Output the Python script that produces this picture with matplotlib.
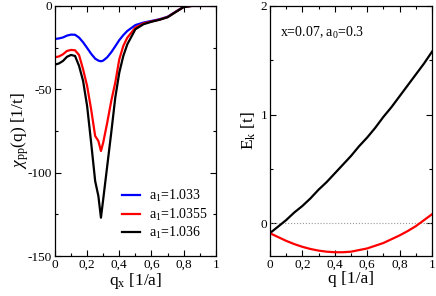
import matplotlib
matplotlib.use("Agg")
import matplotlib.pyplot as plt
from matplotlib.ticker import MultipleLocator, FuncFormatter

plt.rcParams['font.family'] = ['Liberation Serif', 'DejaVu Serif']
plt.rcParams['mathtext.fontset'] = 'custom'
plt.rcParams['mathtext.rm'] = 'Liberation Serif'
plt.rcParams['mathtext.it'] = 'Liberation Serif:italic'
plt.rcParams['axes.unicode_minus'] = False

# ---- left panel data: chi_pp(q) ----
qx = [0, 0.025, 0.05, 0.075, 0.1, 0.125, 0.15, 0.175, 0.2, 0.225, 0.25, 0.27,
      0.286, 0.3, 0.325, 0.35, 0.375, 0.4, 0.425, 0.45, 0.5, 0.55, 0.6, 0.65,
      0.7, 0.75, 0.8, 0.85, 0.9, 0.95, 1.0]
chi_1033 = [-19.8, -19.5, -18.9, -17.8, -17.2, -17.3, -19.0, -21.8, -25.2, -28.7,
            -31.6, -32.8, -33.2, -32.8, -30.8, -27.8, -24.2, -20.5, -17.5, -15.0,
            -11.5, -10.0, -9.0, -8.0, -6.5, -3.5, -0.5, 0, 0, 0, 0]
chi_10355 = [-30.8, -30.3, -29.0, -27.0, -26.4, -26.6, -29.5, -38.0, -48.0, -62.0,
             -78.0, -81.0, -87.0, -82.0, -70.0, -57.0, -46.0, -32.0, -24.0, -19.0,
             -13.0, -10.5, -9.3, -8.2, -6.7, -3.6, -0.6, 0, 0, 0, 0]
chi_1036 = [-35.2, -34.5, -33.0, -30.5, -29.4, -30.0, -36.0, -45.0, -60.0, -82.0,
            -105.0, -114.0, -127.0, -116.0, -96.0, -76.0, -55.0, -40.0, -30.0, -23.0,
            -14.0, -11.0, -9.5, -8.3, -6.8, -3.7, -0.7, 0, 0, 0, 0]
labels_left = ['a$_1$=1.033', 'a$_1$=1.0355', 'a$_1$=1.036']

# ---- right panel data: E_k(q) ----
q = [0, 0.05, 0.1, 0.15, 0.2, 0.25, 0.3, 0.35, 0.4, 0.45, 0.5, 0.55, 0.6, 0.65,
     0.7, 0.75, 0.8, 0.85, 0.9, 0.95, 1.0]
E_black = [-0.09, -0.03, 0.03, 0.10, 0.16, 0.23, 0.31, 0.38, 0.46, 0.54, 0.62,
           0.71, 0.79, 0.88, 0.98, 1.07, 1.17, 1.27, 1.37, 1.47, 1.58]
E_red = [-0.09, -0.125, -0.16, -0.19, -0.215, -0.235, -0.25, -0.26, -0.265, -0.265,
         -0.26, -0.245, -0.23, -0.205, -0.18, -0.145, -0.11, -0.07, -0.025, 0.03, 0.085]

fig = plt.figure(figsize=(4.36, 2.96), dpi=100)
ax1 = fig.add_axes([0.126, 0.135, 0.369, 0.845])
ax2 = fig.add_axes([0.619, 0.135, 0.372, 0.845])

comma = FuncFormatter(lambda v, p: ('%g' % round(v, 6)).replace('.', ','))

for ax in (ax1, ax2):
    ax.tick_params(which='both', direction='in', top=True, right=True, labelsize=9.5,
                   pad=2)
    ax.tick_params(which='major', length=4.5, width=0.8)
    ax.tick_params(which='minor', length=2.5, width=0.8)
    ax.xaxis.set_major_locator(MultipleLocator(0.2))
    ax.xaxis.set_minor_locator(MultipleLocator(0.1))
    ax.xaxis.set_major_formatter(comma)
    ax.set_xlim(0, 1)
    for s in ax.spines.values():
        s.set_linewidth(0.9)

lw = 1.6
ax1.plot(qx, chi_1033, color='#0000ff', lw=lw, label=labels_left[0])
ax1.plot(qx, chi_10355, color='#ff0000', lw=lw, label=labels_left[1])
ax1.plot(qx, chi_1036, color='black', lw=lw, label=labels_left[2])
ax1.set_ylim(-150, 0)
ax1.yaxis.set_major_locator(MultipleLocator(50))
ax1.yaxis.set_minor_locator(MultipleLocator(25))
ax1.set_xlabel('q$_{\\rm x}$ [1/a]', fontsize=12.5, labelpad=0)
ax1.set_ylabel('$\\chi_{\\rm pp}$(q) [1/t]', fontsize=12.5, labelpad=-2)
ax1.legend(loc='lower right', bbox_to_anchor=(1.0, 0.025), frameon=False, fontsize=10,
           handlelength=1.3, handletextpad=0.6, labelspacing=0.2, borderaxespad=0.2)

ax2.axhline(0, color='#999999', lw=0.8, ls=':')
ax2.plot(q, E_black, color='black', lw=lw)
ax2.plot(q, E_red, color='#ff0000', lw=lw)
ax2.set_ylim(-0.3, 2)
ax2.yaxis.set_major_locator(MultipleLocator(1))
ax2.yaxis.set_minor_locator(MultipleLocator(0.5))
ax2.set_xlabel('q [1/a]', fontsize=12.5, labelpad=0)
ax2.set_ylabel('E$_{\\rm k}$ [t]', fontsize=12.5, labelpad=2)
ax2.text(0.06, 0.89, 'x=0.07, a$_0$=0.3', transform=ax2.transAxes, fontsize=10,
         ha='left', va='center')

fig.savefig('out.png', dpi=100)
